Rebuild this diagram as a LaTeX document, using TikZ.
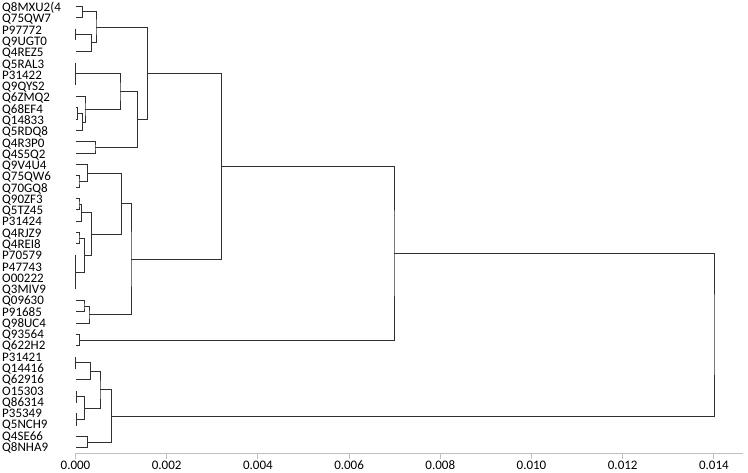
\documentclass[tikz,border=0pt]{standalone}
\usepackage{fontspec}
\setmainfont{Carlito}
\usetikzlibrary{calc}
\definecolor{treec}{HTML}{303030}
\definecolor{axisc}{HTML}{BFBFBF}
\tikzset{
  tree/.style={draw=treec, line width=1pt},
  leaflab/.style={anchor=base west, inner sep=0pt, text height=8.4pt, text depth=1.2pt, font=\fontsize{13}{15}\selectfont},
  ticklab/.style={anchor=base, inner sep=0pt, text height=8.4pt, text depth=0pt, font=\fontsize{13}{15}\selectfont},
  axisline/.style={draw=axisc, line width=1pt}
}
\newcommand\dgnode[4]{%
  \path let \p1=($(#3)!0.5!(#4)$) in (#2pt,\y1) coordinate (#1);
  \draw[tree] (#3) -| (#1) |- (#4);}
\begin{document}
\begin{tikzpicture}[x=1pt,y=-1pt]
\fill[white] (0,0) rectangle (748,472);
\useasboundingbox (0,0) rectangle (748,472);
% leaves
\foreach \n [count=\i from 0] in {Q8MXU2(4,Q75QW7,P97772,Q9UGT0,Q4REZ5,Q5RAL3,P31422,Q9QYS2,Q6ZMQ2,Q68EF4,Q14833,Q5RDQ8,Q4R3P0,Q4S5Q2,Q9V4U4,Q75QW6,Q70GQ8,Q90ZF3,Q5TZ45,P31424,Q4RJZ9,Q4REI8,P70579,P47743,O00222,Q3MIV9,Q09630,P91685,Q98UC4,Q93564,Q622H2,P31421,Q14416,Q62916,O15303,Q86314,P35349,Q5NCH9,Q4SE66,Q8NHA9}{
  \coordinate (L\i) at (75.5,{6+11.33*\i});
  \node[leaflab] (T\i) at (2,{11.7+11.275*\i}) {\n};
}
% cluster A
\dgnode{a1}{82.5}{L0}{L1}
\dgnode{a2}{75.5}{L2}{L3}
\dgnode{a3}{91.5}{a2}{L4}
\dgnode{a4}{96}{a1}{a3}
\dgnode{b1}{75.5}{L5}{L7}
\dgnode{b2}{77.5}{L9}{L10}
\dgnode{b3}{82.5}{b2}{L11}
\dgnode{b4}{85}{L8}{b3}
\dgnode{b5}{120}{b1}{b4}
\dgnode{b6}{95}{L12}{L13}
\dgnode{b7}{137.5}{b5}{b6}
\dgnode{cA}{147.5}{a4}{b7}
% cluster B
\dgnode{c1}{79}{L15}{L16}
\dgnode{c2}{87.5}{L14}{c1}
\dgnode{c3}{79}{L17}{L18}
\dgnode{c4}{81.5}{c3}{L19}
\dgnode{c5}{79}{L20}{L21}
\dgnode{c6}{75.5}{L22}{L25}
\dgnode{c7}{84.5}{c5}{c6}
\dgnode{c8}{91.5}{c4}{c7}
\dgnode{c9}{121.5}{c2}{c8}
\dgnode{c10}{84}{L26}{L27}
\dgnode{c11}{89}{c10}{L28}
\dgnode{cB}{131}{c9}{c11}
\dgnode{cAB}{221.5}{cA}{cB}
\dgnode{d1}{79.5}{L29}{L30}
\dgnode{cABD}{394}{cAB}{d1}
% cluster C
\dgnode{e1}{75.5}{L31}{L32}
\dgnode{e2}{90.5}{e1}{L33}
\dgnode{e3}{76.5}{L34}{L35}
\dgnode{e4}{76.5}{L36}{L37}
\dgnode{e5}{84.5}{e3}{e4}
\dgnode{e6}{100}{e2}{e5}
\dgnode{e7}{87.5}{L38}{L39}
\dgnode{e8}{111.5}{e6}{e7}
\dgnode{root}{714}{cABD}{e8}
% axis
\coordinate (ax0) at (75,453.5);
\coordinate (ax1) at (743,453.5);
\draw[axisline] (ax0) -- (ax1);
\foreach \t [count=\k from 0] in {0.000,0.002,0.004,0.006,0.008,0.010,0.012,0.014}{
  \coordinate (tk\k) at ({75.5+91.2*\k},453.5);
  \coordinate (tb\k) at ({75.5+91.2*\k},458.5);
  \draw[axisline] (tk\k) -- (tb\k);
  \node[ticklab] (X\k) at ({75.5+91.2*\k},469.8) {\t};
}
\end{tikzpicture}
\end{document}
